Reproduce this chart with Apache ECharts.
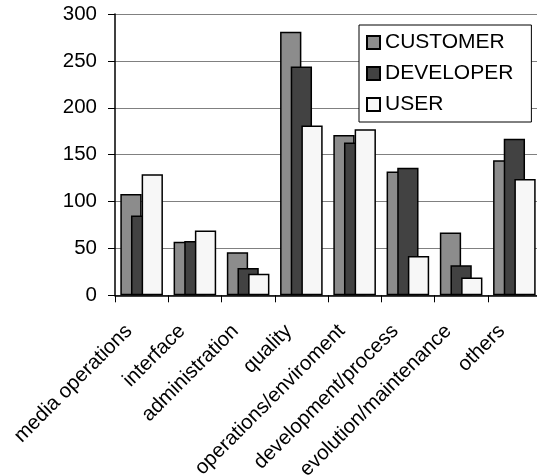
<!DOCTYPE html>
<html>
<head>
<meta charset="utf-8">
<script src="https://cdn.jsdelivr.net/npm/echarts@6/dist/echarts.min.js"></script>
<style>
  html, body { margin: 0; padding: 0; background: #fff; }
  #chart { width: 537px; height: 476px; }
</style>
</head>
<body>
<div id="chart"></div>
<script>
// Requirement categories and counts per stakeholder group
var categories = [
  'media operations', 'interface', 'administration', 'quality',
  'operations/enviroment', 'development/process', 'evolution/maintenance', 'others'
];
var customerValues  = [108, 57, 46, 281, 171, 132, 67, 144];
var developerValues = [85, 58, 29, 244, 163, 136, 32, 167];
var userValues      = [129, 69, 23, 181, 177, 42, 19, 124];
var seriesNames = ['CUSTOMER', 'DEVELOPER', 'USER'];
var yTicks = [0, 50, 100, 150, 200, 250, 300];

var FONT = '"Liberation Sans", Arial, sans-serif';
var fills = ['#8c8c8c', '#424242', '#f7f7f7'];
var valueSets = [customerValues, developerValues, userValues];

var chart = echarts.init(document.getElementById('chart'), null, { renderer: 'canvas' });

var series = seriesNames.map(function (name, i) {
  return {
    name: name,
    type: 'bar',
    data: valueSets[i],
    barWidth: '40%',
    barGap: '-50%',
    itemStyle: { color: fills[i], borderColor: '#000', borderWidth: 1.5 },
    emphasis: { disabled: true }
  };
});

chart.setOption({
  animation: false,
  backgroundColor: '#fff',
  textStyle: { fontFamily: FONT },
  grid: {
    left: 115, top: 14, width: 426, height: 281.3,
    containLabel: false,
    outerBoundsMode: 'none'
  },
  legend: {
    orient: 'vertical',
    left: 359,
    top: 25,
    padding: [7, 18, 7, 7],
    itemWidth: 13,
    itemHeight: 13,
    itemGap: 10,
    backgroundColor: '#fff',
    borderColor: '#000',
    borderWidth: 1,
    icon: 'rect',
    textStyle: { fontFamily: FONT, fontSize: 21, color: '#000', lineHeight: 20, padding: [0, 0, 0, 0] },
    data: seriesNames
  },
  xAxis: {
    type: 'category',
    data: categories,
    axisLine: { lineStyle: { color: '#000', width: 1.5 } },
    axisTick: { show: true, length: 7, lineStyle: { color: '#000' } },
    axisLabel: {
      rotate: 45,
      interval: 0,
      margin: 20,
      padding: [0, 18, 0, 0],
      fontFamily: FONT,
      fontSize: 20.5,
      color: '#000'
    }
  },
  yAxis: {
    type: 'value',
    min: yTicks[0],
    max: yTicks[yTicks.length - 1],
    interval: 50,
    axisLine: { show: true, lineStyle: { color: '#000', width: 1.5 } },
    axisTick: { show: true, length: 7, lineStyle: { color: '#000' } },
    axisLabel: { margin: 18, fontFamily: FONT, fontSize: 20.5, color: '#000' },
    splitLine: { show: true, lineStyle: { color: '#808080', width: 1.2 } }
  },
  series: series
});
</script>
</body>
</html>
